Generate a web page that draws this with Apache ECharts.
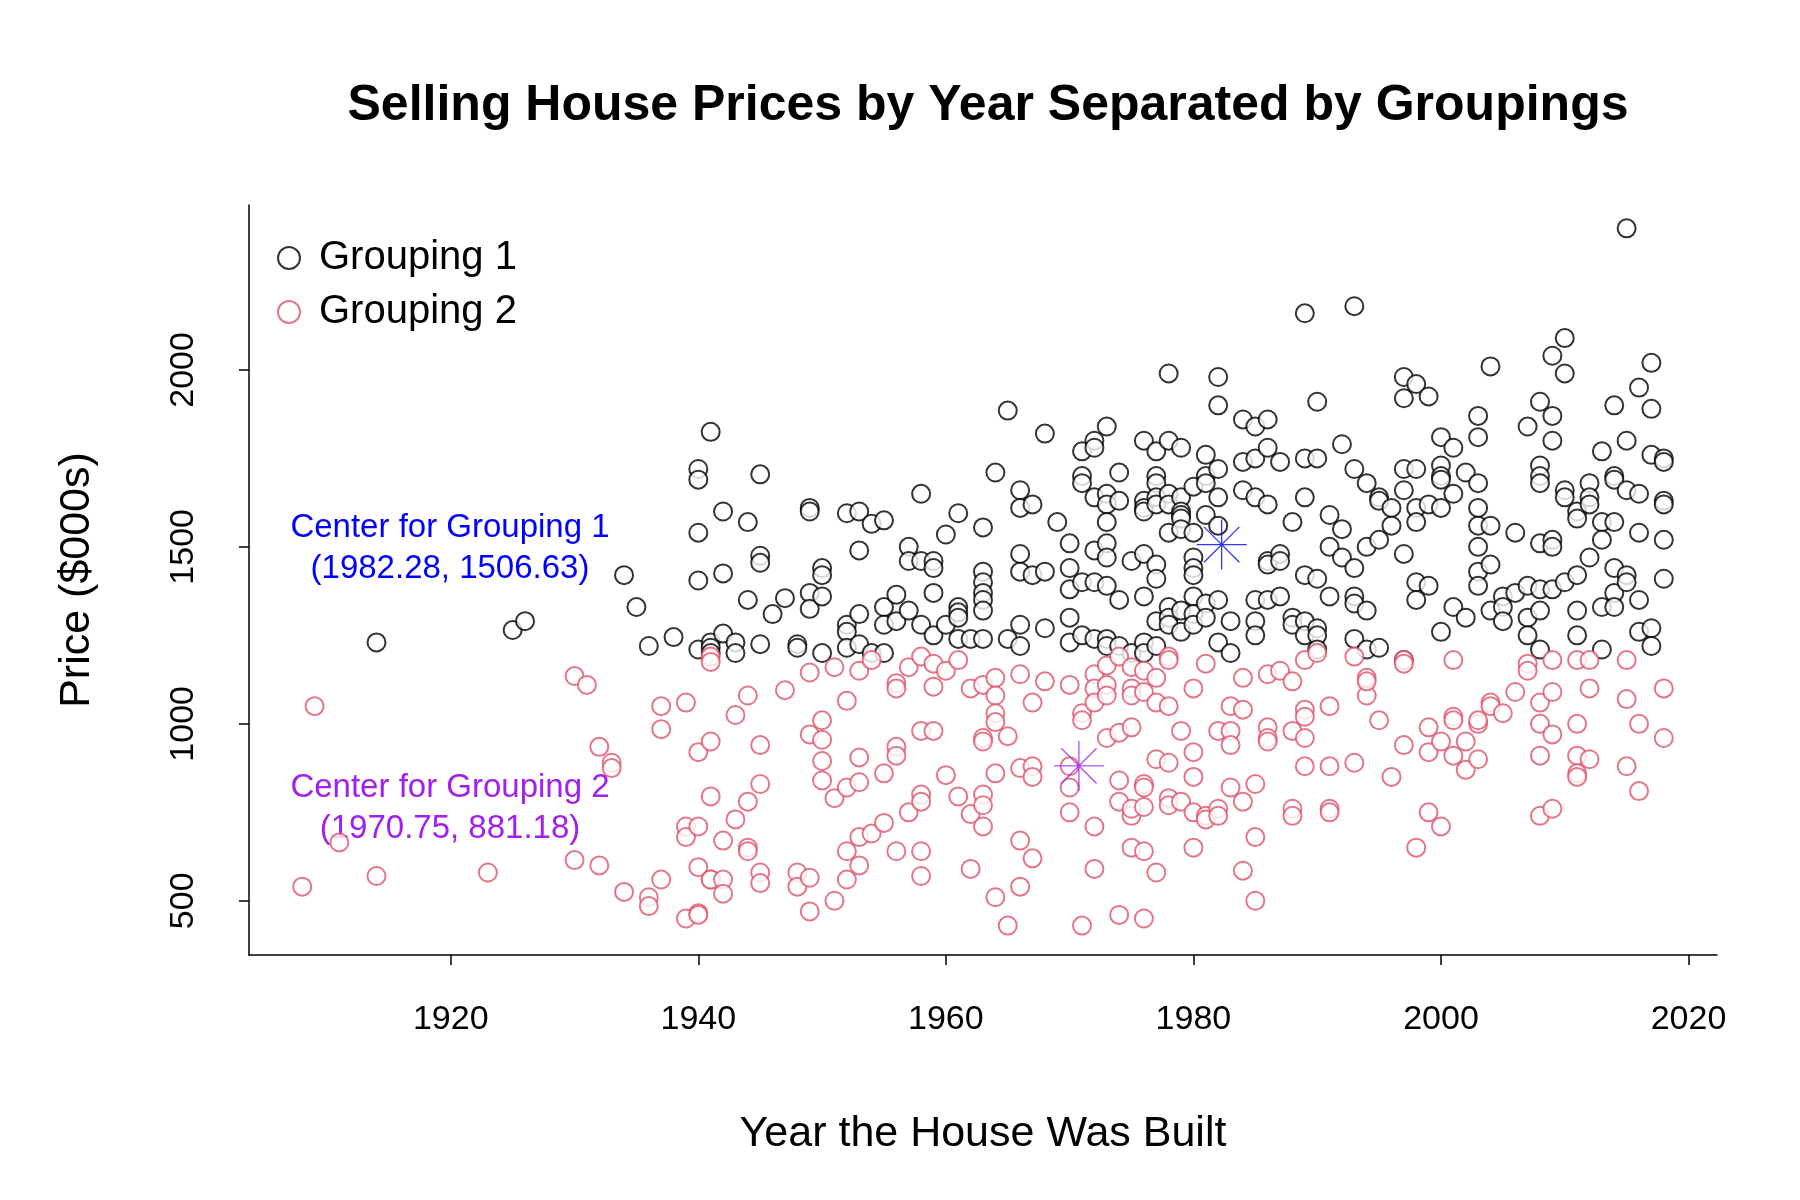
<!DOCTYPE html>
<html><head><meta charset="utf-8">
<script src="https://cdn.jsdelivr.net/npm/echarts@6/dist/echarts.min.js"></script>
<style>html,body{margin:0;background:#fff}#c{width:1800px;height:1200px}</style>
</head><body><div id="c"></div>
<script>
const g1Raw = {
1914:[1230],1925:[1265],1926:[1290],1934:[1420],1935:[1330],1936:[1220],1938:[1245],
1940:[1720,1690,1540,1405,1210],1941:[1825,1230,1215,1200],1942:[1600,1425,1255],1943:[1230,1200],
1944:[1570,1350],1945:[1705,1475,1455,1225],1946:[1310],1947:[1355],1948:[1225,1215],
1949:[1610,1600,1370,1325],1950:[1440,1420,1360,1200],1952:[1595,1280,1260,1215],1953:[1600,1490,1310,1225],
1954:[1565,1200],1955:[1575,1330,1280,1200],1956:[1365,1290],1957:[1500,1460,1320],1958:[1650,1460,1280],
1959:[1460,1440,1370,1250],1960:[1535,1280],1961:[1595,1330,1315,1300,1240],1962:[1240],
1963:[1555,1430,1400,1370,1350,1320,1240],1964:[1710],1965:[1885,1240],1966:[1660,1610,1480,1430,1280,1220],
1967:[1620,1420],1968:[1820,1430,1270],1969:[1570],1970:[1510,1440,1380,1300,1230],1971:[1770,1700,1680,1400,1250],
1972:[1800,1780,1640,1490,1400,1240],1973:[1840,1650,1620,1570,1510,1470,1390,1240,1220],1974:[1710,1630,1350,1220],
1975:[1460,1200],1976:[1800,1630,1610,1600,1480,1360,1230,1200],1977:[1770,1700,1680,1640,1620,1450,1410,1290,1220],
1978:[1990,1800,1650,1620,1540,1330,1300,1280],1979:[1780,1640,1600,1590,1580,1550,1320,1260],
1980:[1670,1540,1470,1440,1420,1360,1310,1280],1981:[1760,1700,1680,1590,1340,1300],1982:[1980,1900,1720,1640,1560,1350,1230],
1983:[1290,1200],1984:[1860,1740,1660],1985:[1840,1750,1640,1350,1290,1250],1986:[1860,1780,1620,1460,1450,1350],
1987:[1740,1480,1460,1360],1988:[1570,1300,1280],1989:[2160,1750,1640,1420,1290,1250],1990:[1910,1750,1410,1270,1250,1210],
1991:[1590,1500,1360],1992:[1790,1550,1470],1993:[2180,1720,1440,1360,1340,1240],1994:[1680,1500,1320,1210],
1995:[1640,1630,1520,1215],1996:[1610,1560],1997:[1980,1920,1720,1660,1480,1180],1998:[1960,1720,1610,1570,1400,1350],
1999:[1925,1620,1390],2000:[1810,1730,1700,1690,1610,1260],2001:[1780,1650,1330],2002:[1710,1300],
2003:[1870,1810,1680,1610,1560,1500,1430,1390],2004:[2010,1560,1450,1320],2005:[1360,1330,1290],2006:[1540,1370],
2007:[1840,1390,1300,1250],2008:[1910,1730,1700,1680,1510,1380,1320,1210],2009:[2040,1870,1800,1520,1500,1380],
2010:[2090,1990,1660,1640,1400],2011:[1600,1580,1420,1320,1250],2012:[1680,1640,1620,1470],2013:[1770,1570,1520,1330,1210],
2014:[1900,1700,1690,1570,1440,1370,1330],2015:[2400,1800,1660,1420,1400],2016:[1950,1650,1540,1350,1260],
2017:[2020,1890,1760,1270,1220],2018:[1750,1740,1630,1620,1520,1410]
};
const g2Raw = {
1908:[540],1909:[1050],1911:[665],1914:[570],1923:[580],1930:[1135,615],1931:[1110],1932:[935,600],1933:[890,875],
1934:[525],1936:[510,485],1937:[1050,985,560],1939:[1060,710,680,450],1940:[920,710,595,465,460],
1941:[1190,1175,950,795,560,560],1942:[670,560,520],1943:[1025,730],1944:[1080,780,650,640],1945:[940,830,580,550],
1947:[1095],1948:[580,540],1949:[1145,970,565,470],1950:[1010,955,895,840],1951:[1160,790,500],1952:[1065,820,640,560],
1953:[1150,905,835,680,600],1954:[1180,690],1955:[860,720],1956:[1115,1100,935,910,640],1957:[1160,750],
1958:[1190,980,800,780,640,570],1959:[1170,1105,980],1960:[1150,855],1961:[1180,795],1962:[1100,745,590],
1963:[1110,960,950,800,770,710],1964:[1130,1080,1030,1005,860,510],1965:[965,430],1966:[1140,875,670,540],
1967:[1060,880,620,850],1968:[1120],1970:[1110,880,820,750],1971:[1030,1010,430],1972:[1140,1100,1060,710,590],
1973:[1165,1110,1080,960],1974:[1190,975,840,780,460],1975:[1160,1100,1080,990,740,650,760],
1976:[1150,1090,830,820,765,640,450],1977:[1130,1060,900,580],1978:[1190,1180,1050,890,790,770],1979:[980,780],
1980:[1100,920,850,750,650],1981:[1170,740,730],1982:[980,760,740],1983:[1050,980,940,820],1984:[1130,1040,780,585],
1985:[830,680,500],1986:[1140,990,960,950],1987:[1150],1988:[1120,980,760,740],1989:[1180,1040,1020,960,880],
1990:[1200],1991:[1050,880,760,750],1993:[1190,890],1994:[1080,1130,1120],1995:[1010],1996:[850],1997:[1180,1170,940],
1998:[650],1999:[990,920,750],2000:[950,710],2001:[1180,1020,1010,910],2002:[950,870],2003:[1000,1010,900],
2004:[1060,1050],2005:[1030],2006:[1090],2007:[1170,1150],2008:[1060,1000,910,740],2009:[1180,1090,970,760],
2011:[1180,1000,910,860,850],2012:[1180,1100,900],2015:[1180,1070,880],2016:[1000,810],2018:[1100,960]
};
const center1 = [1982.28, 1506.63];
const center2 = [1970.75, 881.18];
const xTicks = [1920,1940,1960,1980,2000,2020];
const yTicks = [500,1000,1500,2000];

function flat(raw){const o=[];for(const k in raw)raw[k].forEach(v=>o.push([+k,v]));return o;}
const g1 = flat(g1Raw), g2 = flat(g2Raw);
const star='path://M0,-10L0,10M-10,0L10,0M-7.07,-7.07L7.07,7.07M-7.07,7.07L7.07,-7.07';
const ff='Liberation Sans, Arial, sans-serif';
const chart = echarts.init(document.getElementById('c'));
chart.setOption({
  backgroundColor:'#fff',
  animation:false,
  title:{text:'Selling House Prices by Year Separated by Groupings',left:983,top:76,textAlign:'center',
    textStyle:{fontFamily:ff,fontSize:50,fontWeight:'bold',color:'#000'}},
  grid:{left:249,right:83,top:205,bottom:245},
  legend:{left:272,top:233,orient:'vertical',itemGap:14,itemWidth:22,itemHeight:22,
    textStyle:{fontFamily:ff,fontSize:40,color:'#000',padding:[0,0,0,14]},
    data:['Grouping 1','Grouping 2']},
  xAxis:{type:'value',min:1903.7,max:2022.3,
    name:'Year the House Was Built',nameLocation:'middle',nameGap:158,
    nameTextStyle:{fontFamily:ff,fontSize:43,color:'#000'},
    axisLine:{show:true,lineStyle:{color:'#000',width:1.5}},
    axisTick:{show:true,customValues:xTicks,length:10,lineStyle:{color:'#000',width:1.5}},
    axisLabel:{customValues:xTicks,formatter:v=>String(v),fontFamily:ff,fontSize:34,color:'#000',margin:48},
    splitLine:{show:false}},
  yAxis:{type:'value',min:346.8,max:2466,
    name:'Price ($000s)',nameLocation:'middle',nameGap:150,
    nameTextStyle:{fontFamily:ff,fontSize:43,color:'#000'},
    axisLine:{show:true,lineStyle:{color:'#000',width:1.5}},
    axisTick:{show:true,customValues:yTicks,length:10,lineStyle:{color:'#000',width:1.5}},
    axisLabel:{customValues:yTicks,formatter:v=>String(v),rotate:90,fontFamily:ff,fontSize:34,color:'#000',margin:48},
    splitLine:{show:false}},
  graphic:[
    {type:'text',style:{x:450,y:548,text:'Center for Grouping 1\n(1982.28, 1506.63)',
      fill:'#0000FF',font:'33px '+ff,textAlign:'center',textVerticalAlign:'middle',lineHeight:41}},
    {type:'text',style:{x:450,y:808,text:'Center for Grouping 2\n(1970.75, 881.18)',
      fill:'#A020F0',font:'33px '+ff,textAlign:'center',textVerticalAlign:'middle',lineHeight:41}}
  ],
  series:[
    {name:'Grouping 1',type:'scatter',data:g1,symbol:'emptyCircle',symbolSize:18,
      itemStyle:{color:'#000',borderColor:'#000',borderWidth:1.2}},
    {name:'Grouping 2',type:'scatter',data:g2,symbol:'emptyCircle',symbolSize:18,
      itemStyle:{color:'#DF536B',borderColor:'#DF536B',borderWidth:1.2}},
    {type:'scatter',data:[center1],symbol:star,symbolSize:50,
      itemStyle:{color:'none',borderColor:'#0000FF',borderWidth:1.3}},
    {type:'scatter',data:[center2],symbol:star,symbolSize:50,
      itemStyle:{color:'none',borderColor:'#A020F0',borderWidth:1.3}}
  ]
});
</script></body></html>
